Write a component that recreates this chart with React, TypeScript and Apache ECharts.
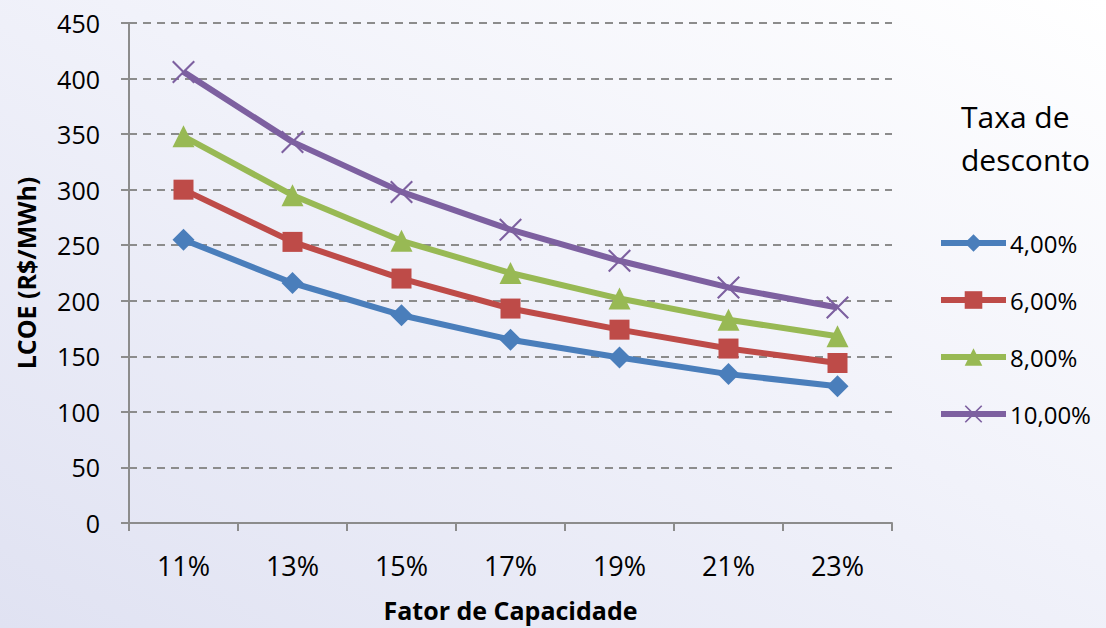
import React, { useEffect, useRef } from "react";
import * as echarts from "echarts";

const categories = ["11%", "13%", "15%", "17%", "19%", "21%", "23%"];
const seriesNames = ["4,00%", "6,00%", "8,00%", "10,00%"];
const rate4 = [255, 216, 187, 165, 149, 134, 123];
const rate6 = [300, 253, 220, 193, 174, 157, 144];
const rate8 = [348, 295, 254, 225, 202, 183, 168];
const rate10 = [406, 343, 298, 264, 236, 212, 194];
const yTicks = { min: 0, max: 450, interval: 50 };

const CROSS =
  "path://M0,1.3L1.3,0L10,8.7L18.7,0L20,1.3L11.3,10L20,18.7L18.7,20L10,11.3L1.3,20L0,18.7L8.7,10Z";

const colors = ["#4a7ebb", "#be4b48", "#98b954", "#7d60a0"];
const symbols = ["diamond", "rect", "triangle", CROSS];
const symbolSizes = [22, 20, 22, 23];
const values = [rate4, rate6, rate8, rate10];

const FONT = "'Open Sans', 'Noto Sans', sans-serif";

export default function App() {
  const ref = useRef<HTMLDivElement>(null);
  useEffect(() => {
    if (!ref.current) return;
    const chart = echarts.init(ref.current, null, { renderer: "svg" });
    chart.setOption({
      animation: false,
      backgroundColor: {
        type: "linear",
        x: 0,
        y: 1,
        x2: 1,
        y2: 0,
        colorStops: [
          { offset: 0, color: "#e0e2f2" },
          { offset: 0.55, color: "#f1f2fa" },
          { offset: 1, color: "#ffffff" },
        ],
      },
      textStyle: { fontFamily: FONT },
      title: {
        text: "Taxa de\ndesconto",
        left: 961,
        top: 95,
        padding: 0,
        textStyle: {
          fontFamily: FONT,
          fontSize: 30,
          fontWeight: "normal",
          color: "#000",
          lineHeight: 43,
        },
      },
      legend: {
        orient: "vertical",
        left: 938,
        top: 231,
        padding: 0,
        itemWidth: 65,
        itemHeight: 22,
        itemGap: 33,
        data: seriesNames,
        lineStyle: { width: 6 },
        textStyle: { fontFamily: FONT, fontSize: 24, color: "#000", padding: [0, 0, 0, -1] },
      },
      grid: { left: 129, right: 214, top: 23, bottom: 105, containLabel: false },
      xAxis: {
        type: "category",
        data: categories,
        boundaryGap: true,
        name: "Fator de Capacidade",
        nameLocation: "middle",
        nameGap: 74,
        nameTextStyle: { fontFamily: FONT, fontSize: 25, fontWeight: "bold", color: "#000" },
        axisLine: { lineStyle: { color: "#8c8c8c", width: 2 } },
        axisTick: { show: true, length: 8, lineStyle: { color: "#8c8c8c", width: 2 } },
        axisLabel: { fontFamily: FONT, fontSize: 27, color: "#000", margin: 29 },
        splitLine: { show: false },
      },
      yAxis: {
        type: "value",
        min: yTicks.min,
        max: yTicks.max,
        interval: yTicks.interval,
        name: "LCOE (R$/MWh)",
        nameLocation: "middle",
        nameGap: 91,
        nameTextStyle: { fontFamily: FONT, fontSize: 25, fontWeight: "bold", color: "#000" },
        axisLine: { show: true, lineStyle: { color: "#8c8c8c", width: 2 } },
        axisTick: { show: true, length: 8, lineStyle: { color: "#8c8c8c", width: 2 } },
        axisLabel: { fontFamily: FONT, fontSize: 25, color: "#000", margin: 29 },
        splitLine: {
          show: true,
          lineStyle: { color: "#8c8c8c", width: 2, type: [8, 6] },
        },
      },
      series: seriesNames.map((name, i) => ({
        name,
        type: "line",
        data: values[i],
        symbol: symbols[i],
        symbolSize: symbolSizes[i],
        lineStyle: { color: colors[i], width: 6 },
        itemStyle: { color: colors[i] },
        z: 2 + i,
      })),
    });
    return () => chart.dispose();
  }, []);
  return (
    <div
      ref={ref}
      style={{ position: "fixed", left: 0, top: 0, width: 1106, height: 628 }}
    />
  );
}
